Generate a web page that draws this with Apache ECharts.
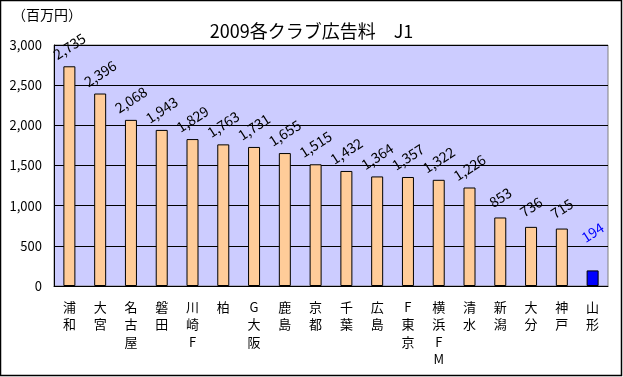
<!DOCTYPE html>
<html>
<head>
<meta charset="utf-8">
<script src="https://cdn.jsdelivr.net/npm/echarts@6/dist/echarts.min.js"></script>
<style>
  html, body { margin: 0; padding: 0; background: #fff; }
  #main { width: 623px; height: 377px; }
</style>
</head>
<body>
<div id="main"></div>
<script>
// 2009 J1 club advertising revenue (million yen)
var clubs = ['浦和', '大宮', '名古屋', '磐田', '川崎F', '柏', 'G大阪', '鹿島', '京都',
  '千葉', '広島', 'F東京', '横浜FM', '清水', '新潟', '大分', '神戸', '山形'];
var adRevenue = [2735, 2396, 2068, 1943, 1829, 1763, 1731, 1655, 1515,
  1432, 1364, 1357, 1322, 1226, 853, 736, 715, 194];
var highlightClub = '山形';
var yTicks = [0, 500, 1000, 1500, 2000, 2500, 3000];

var font = '"Noto Sans CJK JP", "Noto Sans", sans-serif';

var barData = adRevenue.map(function (v, i) {
  if (clubs[i] === highlightClub) {
    return {
      value: v,
      itemStyle: { color: '#0000FF' },
      label: { color: '#0000FF', distance: 38 }
    };
  }
  return v;
});

var myChart = echarts.init(document.getElementById('main'), null, { renderer: 'canvas' });

var option = {
  animation: false,
  textStyle: { fontFamily: font },
  title: {
    text: '2009各クラブ広告料　J1',
    left: 'center',
    top: 17,
    textStyle: { fontFamily: font, fontSize: 18, fontWeight: 'normal', color: '#000' }
  },
  graphic: [
    {
      type: 'rect',
      shape: { x: 0.5, y: 0.5, width: 621, height: 375 },
      style: { fill: 'none', stroke: '#000', lineWidth: 1.5 },
      silent: true
    },
    {
      type: 'text',
      left: 12,
      top: 8,
      style: { text: '（百万円）', font: '14px ' + font, fill: '#000' }
    }
  ],
  grid: {
    left: 54,
    top: 45,
    right: 15,
    bottom: 91,
    show: true,
    backgroundColor: '#CCCCFF',
    borderColor: '#808080',
    borderWidth: 1
  },
  xAxis: {
    type: 'category',
    data: clubs,
    axisLine: { lineStyle: { color: '#000', width: 1 } },
    axisTick: { inside: true, length: 4, lineStyle: { color: '#000' } },
    axisLabel: {
      color: '#000',
      fontSize: 13,
      lineHeight: 17.5,
      margin: 12,
      interval: 0,
      formatter: function (v) { return v.split('').join('\n'); }
    }
  },
  yAxis: {
    type: 'value',
    min: yTicks[0],
    max: yTicks[yTicks.length - 1],
    interval: 500,
    axisLine: { show: true, lineStyle: { color: '#000', width: 1 } },
    axisTick: { show: false },
    splitLine: { lineStyle: { color: '#000', width: 1 } },
    axisLabel: {
      color: '#000',
      fontSize: 13,
      margin: 12,
      formatter: function (v) { return v.toLocaleString('en-US'); }
    }
  },
  series: [{
    type: 'bar',
    data: barData,
    barWidth: 12,
    itemStyle: { color: '#FFCC99', borderColor: '#000', borderWidth: 1 },
    label: {
      show: true,
      position: 'top',
      distance: 20,
      rotate: 33,
      align: 'center',
      verticalAlign: 'middle',
      fontSize: 14,
      color: '#000',
      formatter: function (p) { return p.value.toLocaleString('en-US'); }
    }
  }]
};

myChart.setOption(option);
window.addEventListener('resize', myChart.resize);
</script>
</body>
</html>
